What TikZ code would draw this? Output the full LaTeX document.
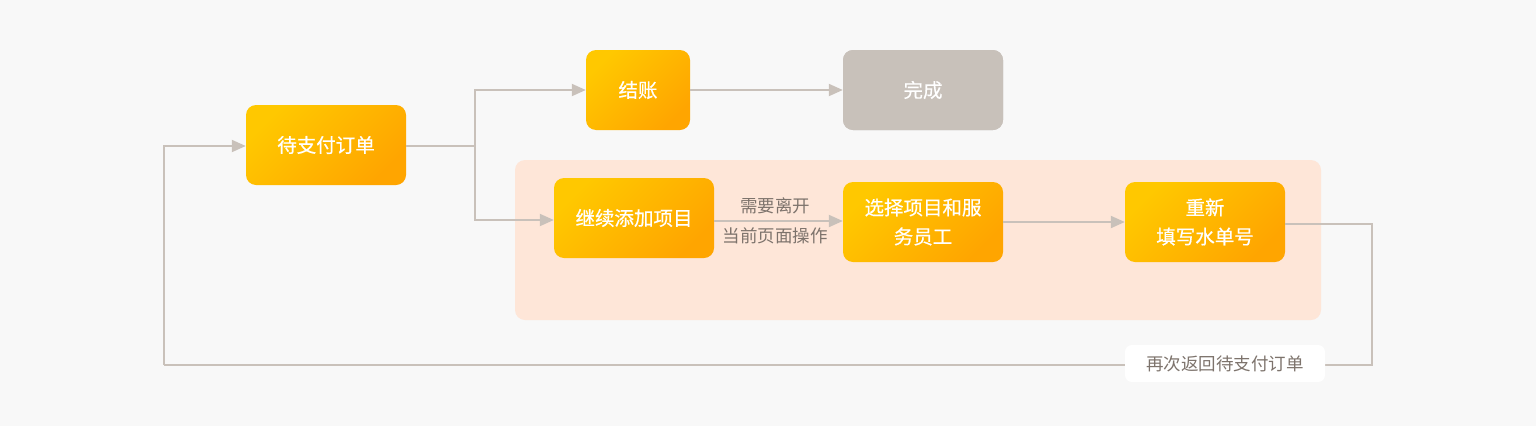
\documentclass[tikz,border=0pt]{standalone}
\usepackage{fontspec}
\setmainfont{Noto Sans CJK SC}
\newfontfamily\cjkb[FakeBold=0.5]{Noto Sans CJK SC}
\usetikzlibrary{arrows.meta}
\definecolor{bgc}{HTML}{F8F8F8}
\definecolor{yA}{HTML}{FFC800}
\definecolor{yB}{HTML}{FFA500}
\definecolor{grayb}{HTML}{C8C1BA}
\definecolor{linec}{HTML}{C9C1BA}
\definecolor{regionc}{HTML}{FEE6D8}
\definecolor{labc}{HTML}{7D736C}
\begin{document}
\begin{tikzpicture}[x=1pt,y=-1pt,
  box/.style={rounded corners=10pt, minimum width=160pt, minimum height=80pt,
    left color=yA, right color=yB, shading angle=45, text=white, inner sep=0pt, align=center,
    font=\cjkb\fontsize{19.5}{29}\selectfont},
  donebox/.style={box, fill=grayb, left color=grayb, right color=grayb},
  conn/.style={draw=linec, line width=2pt},
  arr/.style={conn, -{Triangle[length=14pt,width=12pt]}},
  lab/.style={text=labc, font=\fontsize{17.5}{20}\selectfont, inner sep=0pt}]
\fill[bgc] (0,0) rectangle (1536,426);
\useasboundingbox (0,0) rectangle (1536,426);
\node[fill=regionc, rounded corners=10pt, minimum width=806pt, minimum height=160pt, inner sep=0pt] (grp) at (918,240) {};
\node[box] (pay) at (326,145) {待支付订单};
\node[box, minimum width=104pt] (checkout) at (638,90) {结账};
\node[donebox] (done) at (923,90) {完成};
\node[box] (cont) at (634,218) {继续添加项目};
\node[box] (sel) at (923,222) {选择项目和服\\务员工};
\node[box] (redo) at (1205,222) {重新\\填写水单号};
\coordinate (j) at (475,146);
\coordinate (r1) at (1372,224);
\coordinate (r2) at (1372,365);
\coordinate (r3) at (164,365);
\draw[conn] (pay.east |- j) -- (j);
\draw[arr] (j) |- (checkout.west);
\draw[arr] (j) |- (cont.west |- 0,220);
\draw[arr] (checkout) -- (done);
\draw[arr] (cont.east |- 0,221) -- (sel.west |- 0,221);
\draw[arr] (sel) -- (redo);
\draw[conn] (redo.east |- r1) -- (r1) -- (r2) -- (r3);
\draw[arr] (r3) |- (pay.west |- 0,146);
\node[lab] (l1) at (775,206) {需要离开};
\node[lab] (l2) at (775,236) {当前页面操作};
\node[fill=white, rounded corners=7pt, minimum width=200pt, minimum height=37pt, inner sep=0pt, text=labc, font=\fontsize{17.5}{20}\selectfont] (back) at (1225,363.5) {再次返回待支付订单};
\end{tikzpicture}
\end{document}
